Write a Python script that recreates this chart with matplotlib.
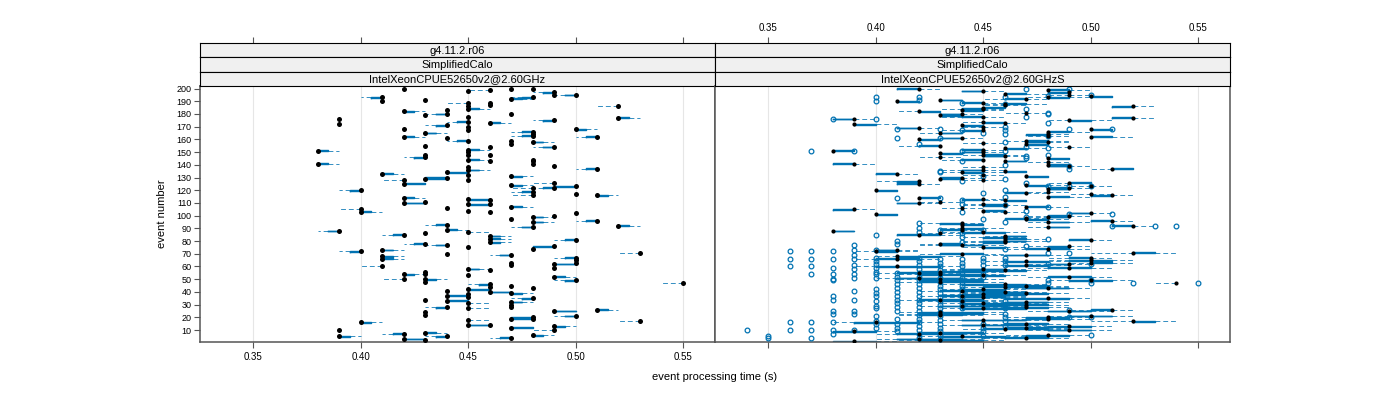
import matplotlib
matplotlib.use('Agg')

import matplotlib.pyplot as plt

plt.rcParams['font.family'] = ['Liberation Sans', 'DejaVu Sans']

BLUE = '#0072b2'

# ---- left panel: IntelXeonCPUE52650v2@2.60GHz ----
# event number, median time (1/100 s), box and whisker extent from the median (1/1000 s, signed)
left_event = [
    200, 200, 200, 199, 198, 197, 195, 195, 193, 193,
    192, 191, 190, 189, 189, 187, 186, 186, 184, 183,
    182, 180, 180, 179, 178, 177, 176, 175, 174, 173,
    172, 171, 170, 168, 168, 167, 166, 165, 164, 163,
    162, 162, 161, 159, 159, 158, 156, 155, 154, 154,
    152, 151, 150, 148, 148, 148, 146, 144, 144, 143,
    143, 141, 141, 139, 138, 137, 136, 134, 133, 132,
    131, 130, 129, 128, 128, 126, 125, 124, 123, 122,
    122, 120, 119, 117, 116, 116, 114, 113, 112, 111,
    110, 109, 109, 107, 106, 105, 104, 103, 103, 102,
    100, 99, 97, 96, 95, 93, 92, 91, 89, 88,
    87, 86, 85, 84, 82, 81, 79, 78, 77, 76,
    75, 74, 73, 72, 71, 70, 69, 68, 67, 66,
    65, 63, 63, 62, 61, 60, 59, 58, 57, 56,
    54, 54, 53, 52, 50, 50, 49, 48, 47, 46,
    45, 44, 43, 42, 41, 40, 39, 38, 37, 36,
    35, 34, 33, 32, 31, 30, 28, 28, 27, 26,
    25, 24, 22, 21, 20, 19, 19, 18, 17, 16,
    14, 14, 13, 12, 10, 10, 8, 7, 6, 5,
    5, 4, 3, 2]
left_med = [
    47, 48, 42, 46, 45, 49, 49, 50, 48, 41,
    47, 43, 41, 45, 46, 46, 45, 52, 45, 44,
    42, 47, 44, 43, 45, 52, 39, 49, 45, 46,
    39, 44, 45, 42, 50, 45, 48, 43, 48, 48,
    51, 42, 44, 47, 45, 48, 47, 43, 49, 46,
    45, 38, 45, 43, 45, 46, 43, 48, 45, 46,
    48, 38, 48, 49, 45, 51, 45, 44, 41, 45,
    47, 44, 43, 45, 42, 49, 42, 47, 50, 49,
    48, 40, 48, 50, 51, 48, 42, 45, 46, 43,
    42, 45, 46, 47, 44, 40, 45, 46, 40, 50,
    49, 48, 47, 51, 48, 44, 52, 48, 44, 39,
    45, 43, 42, 46, 46, 50, 46, 43, 44, 49,
    45, 48, 41, 40, 53, 44, 47, 41, 50, 41,
    50, 50, 47, 49, 47, 41, 49, 45, 46, 43,
    43, 42, 45, 49, 43, 42, 50, 43, 55, 46,
    47, 46, 48, 45, 44, 46, 47, 45, 44, 45,
    48, 43, 44, 47, 45, 47, 47, 44, 45, 51,
    49, 43, 43, 50, 48, 48, 47, 45, 53, 40,
    45, 46, 49, 47, 49, 39, 43, 42, 48, 44,
    39, 47, 42, 43]
left_box = [
    0, 0, 0, 0, 0, -5, 0, -5, -5, -5,
    5, 0, 0, 0, 0, 0, 0, 0, 5, 0,
    5, 0, -5, 0, 0, 5, 0, -5, -5, 5,
    0, -5, 0, 0, 5, 0, -5, 5, 0, -5,
    -5, 5, 0, 0, -5, 5, 0, 0, -5, 0,
    5, 5, 0, 0, 0, 0, -5, 0, 5, 0,
    0, 5, 0, 0, 0, -5, 5, 10, 5, 0,
    5, -10, 10, 0, 0, 0, 10, 5, -10, -5,
    0, -5, -5, 0, 5, 0, 5, 10, 0, 0,
    10, 10, 0, 5, 0, 0, 0, 0, 5, 0,
    0, 5, 0, -5, 5, -5, 5, -5, 5, -5,
    0, 0, -5, 5, 5, -5, 5, -5, -5, -10,
    0, 0, 5, -5, 0, 0, -5, 5, -5, 5,
    0, 0, 0, 10, 0, 0, 0, 5, 0, 0,
    0, 5, 0, 5, 5, 0, -5, 0, 0, -5,
    0, 0, 0, 10, 0, 10, 5, 0, 10, 0,
    -5, 0, 10, 5, 0, 0, 0, -5, 0, 5,
    10, 0, 0, -5, -10, 0, 10, 0, 0, 5,
    0, -10, 5, 10, 0, 0, 5, -5, 5, -5,
    5, -5, 10, 0]
left_whisker = [
    0, 0, 0, -10, 0, -10, 0, -10, -10, -10,
    10, 0, 0, -10, 0, 0, 0, -10, 10, 0,
    10, 0, -10, 0, 0, 10, 0, -10, -10, 10,
    0, -10, 0, 0, 10, 0, -10, 10, 0, -10,
    -10, 10, 0, 0, -10, 10, 0, 0, -10, 0,
    10, 10, 0, 0, 0, 0, -10, 0, 10, 0,
    0, 10, 0, 0, 0, -10, 10, 10, 10, 0,
    10, -10, 10, 0, -10, -10, 10, 10, -10, -10,
    -10, -10, -10, 0, 10, -10, 10, 10, 0, 0,
    10, 10, 0, 10, 0, -10, 0, 0, 10, 0,
    0, 10, 0, -10, 10, -10, 10, -10, 10, -10,
    10, 0, -10, 10, 10, -10, 10, -10, -10, -10,
    0, 0, 10, -10, -10, 0, -10, 10, -10, 10,
    0, 0, 0, 10, 0, -10, 0, 10, 0, 0,
    0, 10, 0, 10, 10, -10, -10, 0, -10, -10,
    0, 0, 0, 10, 0, 10, 10, 0, 10, 0,
    -10, 0, 10, 10, 10, 0, 0, -10, 10, 10,
    10, 0, 0, -10, -10, 0, 10, 10, -10, 10,
    0, -10, 10, 10, -10, 0, 10, -10, 10, -10,
    10, -10, 10, 0]

# ---- right panel: IntelXeonCPUE52650v2@2.60GHzS ----
# one box per event, events 200 -> 1; median in 1/100 s, quartiles and whiskers as offsets (1/100 s)
right_event = list(range(200, 0, -1))
right_med = [
    42, 48, 45, 49, 46, 49, 50, 48, 47, 43,
    41, 45, 46, 46, 52, 45, 45, 44, 42, 47,
    44, 43, 45, 52, 39, 49, 45, 46, 39, 44,
    45, 42, 50, 45, 48, 43, 48, 48, 50, 44,
    42, 47, 48, 45, 47, 43, 49, 46, 45, 38,
    45, 43, 45, 46, 43, 48, 45, 46, 48, 39,
    48, 49, 45, 51, 45, 46, 44, 41, 45, 47,
    44, 43, 45, 42, 49, 42, 47, 50, 49, 48,
    40, 48, 47, 50, 51, 48, 42, 45, 46, 43,
    42, 45, 46, 47, 44, 39, 45, 46, 50, 40,
    49, 48, 47, 47, 51, 48, 44, 44, 52, 48,
    44, 44, 38, 45, 43, 42, 46, 46, 46, 50,
    46, 46, 43, 44, 49, 45, 48, 41, 40, 52,
    44, 47, 41, 50, 41, 50, 47, 50, 49, 47,
    41, 49, 45, 46, 43, 42, 43, 45, 49, 42,
    43, 50, 43, 54, 46, 47, 46, 48, 45, 44,
    46, 47, 45, 44, 45, 48, 43, 44, 47, 45,
    47, 44, 47, 45, 51, 49, 43, 43, 43, 50,
    48, 48, 45, 52, 40, 47, 45, 49, 47, 46,
    49, 39, 43, 42, 48, 44, 47, 42, 43, 39]
right_q1 = [
    -1, 0, -1, -1, 0, 0, 0, 0, -1, 0,
    0, -1, 0, 0, -1, 0, -1, 0, 0, 0,
    -1, 0, -1, -1, -1, 0, 0, -1, 0, 0,
    0, -1, 0, -1, 0, 0, -1, 0, 0, -1,
    0, 0, -1, 0, 0, -1, 0, 0, -1, 0,
    -1, 0, 0, -1, 0, 0, -1, 0, 0, -1,
    0, -1, 0, 0, -1, 0, 0, -1, 0, 0,
    -1, 0, 0, -1, 0, -1, 0, 0, -1, 0,
    0, 0, -1, 0, -1, 0, 0, -1, 0, 0,
    -1, 0, -1, 0, 0, -1, 0, 0, -1, 0,
    -1, 0, -1, 0, -1, 0, -1, 0, -1, 0,
    0, -1, 0, -1, 0, -1, 0, -1, 0, -1,
    -1, -1, 0, -1, -1, 0, -1, -1, 0, 0,
    -1, -1, 0, -1, -1, -1, -1, 0, -1, -1,
    -1, -1, -1, -2, -1, -1, -1, -1, -1, -1,
    -1, -1, -1, 0, -2, -1, -1, -1, -1, -1,
    -1, -2, -1, -1, -1, -2, -1, -1, -1, -1,
    -2, -1, -1, -1, -1, -1, -1, -1, -1, -1,
    -1, -1, -1, 0, -1, -1, -1, -1, -1, -1,
    -1, -1, -1, -1, -1, -1, -1, -1, -1, -1]
right_q3 = [
    0, 1, 0, 0, 1, 0, 1, 1, 0, 1,
    1, 0, 1, 0, 0, 1, 0, 1, 1, 0,
    0, 1, 0, 0, 0, 1, 0, 0, 1, 1,
    0, 0, 1, 0, 1, 1, 0, 0, 1, 0,
    1, 1, 0, 0, 1, 0, 0, 1, 0, 1,
    0, 1, 1, 0, 0, 1, 0, 1, 0, 0,
    1, 0, 0, 1, 0, 1, 1, 0, 0, 1,
    0, 1, 0, 0, 1, 0, 1, 0, 0, 1,
    1, 0, 0, 0, 0, 1, 1, 0, 1, 0,
    0, 1, 0, 1, 0, 0, 1, 0, 0, 1,
    0, 1, 0, 1, 0, 1, 0, 1, 0, 1,
    1, 0, 1, 1, 0, 1, 1, 0, 1, 0,
    1, 0, 1, 1, 0, 1, 1, 0, 1, 1,
    1, 1, 2, 0, 1, 1, 1, 1, 0, 1,
    2, 1, 1, 1, 2, 1, 2, 1, 1, 2,
    2, 1, 2, 0, 1, 1, 2, 1, 1, 2,
    1, 1, 2, 2, 1, 1, 2, 1, 1, 2,
    1, 2, 1, 2, 0, 1, 2, 2, 1, 1,
    1, 1, 2, 1, 2, 1, 2, 1, 1, 2,
    1, 1, 2, 2, 1, 2, 1, 2, 2, 1]
right_lo = [
    -1, 0, -1, -1, 0, -1, 0, -1, -2, 0,
    0, -1, -1, -1, -1, 0, -2, 0, -1, -1,
    -1, 0, -2, -1, -1, -1, -1, -1, 0, 0,
    -1, -1, 0, -2, 0, -1, -1, -1, 0, -1,
    0, -1, -1, -1, 0, -2, -1, 0, -1, 0,
    -1, 0, -1, -1, -1, 0, -2, 0, -1, -1,
    0, -1, -1, -1, -2, 0, -1, -1, -1, 0,
    -1, 0, -1, -2, -1, -1, 0, -1, -1, 0,
    0, -1, -1, -1, -1, 0, 0, -1, -1, -1,
    -1, -1, -2, 0, -1, -1, 0, -1, -1, 0,
    -2, -1, -1, 0, -1, -1, -2, 0, -1, -1,
    -1, -1, 0, -2, -1, -1, -1, -2, 0, -1,
    -2, -2, -1, -2, -2, -1, -2, -1, -1, -2,
    -2, -2, -1, -2, -2, -2, -2, -1, -2, -2,
    -2, -2, -2, -3, -2, -2, -2, -2, -2, -2,
    -2, -2, -2, -1, -3, -2, -2, -2, -2, -2,
    -2, -3, -2, -2, -2, -3, -2, -2, -2, -2,
    -3, -2, -2, -2, -2, -2, -2, -2, -2, -2,
    -2, -2, -2, -2, -2, -2, -2, -2, -2, -2,
    -2, -1, -2, -2, -2, -2, -2, -2, -2, -1]
right_hi = [
    1, 2, 1, 0, 2, 1, 1, 2, 1, 1,
    1, 1, 2, 1, 1, 1, 1, 2, 1, 1,
    1, 1, 1, 1, 1, 2, 1, 1, 2, 1,
    1, 1, 1, 0, 2, 1, 1, 1, 2, 1,
    1, 2, 1, 1, 1, 0, 1, 2, 1, 1,
    1, 1, 2, 1, 1, 1, 0, 1, 1, 1,
    1, 1, 1, 1, 1, 1, 2, 1, 1, 1,
    1, 1, 1, 0, 1, 1, 2, 1, 1, 1,
    1, 1, 1, 1, 1, 2, 1, 1, 1, 1,
    1, 1, 1, 2, 1, 1, 1, 1, 1, 1,
    1, 1, 1, 2, 1, 2, 1, 1, 1, 1,
    2, 1, 1, 2, 1, 2, 1, 1, 2, 1,
    2, 1, 2, 2, 1, 2, 2, 1, 2, 2,
    2, 2, 3, 1, 2, 2, 2, 2, 1, 2,
    3, 2, 2, 2, 3, 2, 3, 2, 2, 3,
    3, 2, 3, 0, 2, 2, 3, 2, 2, 3,
    2, 2, 3, 3, 2, 2, 3, 2, 2, 3,
    2, 3, 2, 3, 1, 2, 3, 3, 2, 2,
    2, 2, 3, 2, 3, 2, 3, 2, 2, 3,
    2, 2, 3, 3, 2, 3, 2, 3, 3, 2]

# outlying runs: time (s) and the events where a run fell there
right_out_times = [0.34, 0.35, 0.36, 0.37, 0.38, 0.39, 0.40, 0.41, 0.42, 0.43,
                   0.44, 0.45, 0.46, 0.47, 0.48, 0.49, 0.50, 0.51, 0.52, 0.53,
                   0.54, 0.55]
right_out_events = [
    [10],
    [5, 4],
    [72, 66, 60, 16, 10],
    [151, 72, 66, 60, 54, 16, 10, 4],
    [176, 72, 66, 59, 54, 50, 49, 37, 34, 25, 23, 16, 10, 7],
    [151, 77, 73, 69, 66, 61, 58, 54, 51, 41, 34, 25, 23, 10],
    [193, 190, 176, 85, 73, 67, 64, 62, 59, 56, 54, 51, 42, 39, 37, 33, 29, 27,
     21, 17, 15, 12],
    [168, 161, 114, 80, 78, 55, 52, 49, 46, 43, 40, 37, 34, 31, 28, 25, 19, 15,
     12, 9],
    [193, 191, 156, 94, 90, 87, 67, 64, 61, 58, 55, 52, 49, 46, 43, 40, 37, 34,
     31, 28, 25, 22, 19, 16, 13, 10, 7, 4],
    [168, 161, 135, 134, 114, 89, 66, 63, 60, 57, 54, 51, 48, 45, 42, 39, 36, 33,
     30, 27, 24, 21, 18, 15, 12, 9, 6, 3],
    [189, 167, 151, 143, 127, 112, 109, 103, 86, 83, 79, 66, 63, 60, 57, 54, 51,
     48, 45, 42, 39, 36, 33, 30, 27],
    [165, 131, 118, 97, 89, 67, 64, 61, 57, 54, 52, 15, 12, 9, 5],
    [193, 188, 170, 167, 164, 158, 151, 140, 129, 120, 115, 108, 95, 74, 67, 64,
     61, 33, 30, 27, 23, 20, 17, 13],
    [200, 184, 178, 154, 147, 145, 126, 104, 99, 76],
    [194, 181, 180, 173, 163, 153, 148, 123, 107, 82, 71, 62, 49, 47],
    [200, 168, 139, 137, 123, 101, 71, 26, 20],
    [195, 123, 62, 49, 47, 20, 6],
    [168, 101, 92],
    [47],
    [92],
    [92],
    [47]]

strip_labels = ['g4.11.2.r06', 'SimplifiedCalo']
panel_labels = ['IntelXeonCPUE52650v2@2.60GHz', 'IntelXeonCPUE52650v2@2.60GHzS']
x_ticks = [0.35, 0.40, 0.45, 0.50, 0.55]
y_ticks = list(range(10, 201, 10))


def stats_from(med, q1, q3, lo, hi):
    return [dict(med=m, q1=a, q3=b, whislo=c, whishi=d, fliers=[])
            for m, a, b, c, d in zip(med, q1, q3, lo, hi)]


left_stats = stats_from(
    [m / 100 for m in left_med],
    [m / 100 + min(b, 0) / 1000 for m, b in zip(left_med, left_box)],
    [m / 100 + max(b, 0) / 1000 for m, b in zip(left_med, left_box)],
    [m / 100 + min(w, 0) / 1000 for m, w in zip(left_med, left_whisker)],
    [m / 100 + max(w, 0) / 1000 for m, w in zip(left_med, left_whisker)])
right_stats = stats_from(
    [m / 100 for m in right_med],
    [(m + o) / 100 for m, o in zip(right_med, right_q1)],
    [(m + o) / 100 for m, o in zip(right_med, right_q3)],
    [(m + o) / 100 for m, o in zip(right_med, right_lo)],
    [(m + o) / 100 for m, o in zip(right_med, right_hi)])

W, H = 1400.0, 400.0
fig = plt.figure(figsize=(14, 4), dpi=100)

panel_x = [200, 715]
panel_w = 515
panel_top, panel_bot = 86, 342
strip_h = (panel_top - 43) / 3.0
top_loc = 1 + (panel_top - 43) / float(panel_bot - panel_top)


def draw_boxes(ax, events, stats, dot_ms):
    kw = dict(positions=events, widths=0.6, showcaps=False, showfliers=False,
              manage_ticks=False, medianprops=dict(linestyle='none'))
    try:
        parts = ax.bxp(stats, orientation='horizontal', **kw)
    except TypeError:
        parts = ax.bxp(stats, vert=False, **kw)
    # lattice look: solid blue box, thin dashed blue whiskers
    for ln in parts['boxes']:
        ln.set_color(BLUE)
        ln.set_linewidth(1.0)
    for ln in parts['whiskers']:
        ln.set_color(BLUE)
        ln.set_alpha(0.8)
        ln.set_linewidth(0.7)
        ln.set_linestyle((0, (5, 3)))
    ax.plot([s['med'] for s in stats], events, 'o', color='black',
            ms=dot_ms, mew=0, zorder=4)


axes = []
for i, x0 in enumerate(panel_x):
    ax = fig.add_axes([x0 / W, 1 - panel_bot / H, panel_w / W,
                       (panel_bot - panel_top) / H])
    ax.set_xlim(0.3253, 0.5649)
    ax.set_ylim(0.6, 202.0)
    for t in x_ticks:
        ax.axvline(t, color='#e6e6e6', lw=0.8, zorder=0)
    for s in ax.spines.values():
        s.set_color('#555555')
        s.set_linewidth(1.1)
    ax.set_xticks(x_ticks)
    ax.set_xticklabels(['%.2f' % t for t in x_ticks])
    ax.tick_params(axis='x', direction='out', length=4, width=0.8,
                   color='#555555', labelsize=7, pad=3,
                   labelbottom=(i == 0))
    if i == 0:
        ax.set_yticks(y_ticks)
        ax.tick_params(axis='y', direction='out', length=4, width=0.8,
                       color='#555555', labelsize=6.5, pad=2)
    else:
        ax.set_yticks([])

    sec = ax.secondary_xaxis(top_loc)
    sec.set_xticks(x_ticks)
    sec.set_xticklabels(['%.2f' % t for t in x_ticks])
    sec.tick_params(direction='out', length=4, width=0.8, color='#555555',
                    labelsize=7, pad=3, labeltop=(i == 1))
    sec.spines['top'].set_visible(False)

    labels = strip_labels + [panel_labels[i]]
    for k, lab in enumerate(labels):
        y_top = 43 + k * strip_h
        sax = fig.add_axes([x0 / W, 1 - (y_top + strip_h) / H, panel_w / W,
                            strip_h / H])
        sax.set_facecolor('#f0f0f0')
        sax.set_xticks([])
        sax.set_yticks([])
        for s in sax.spines.values():
            s.set_color('black')
            s.set_linewidth(0.8)
        sax.text(0.5, 0.45, lab, ha='center', va='center', fontsize=8,
                 transform=sax.transAxes)
    axes.append(ax)

ax_l, ax_r = axes
draw_boxes(ax_l, left_event, left_stats, 3.6)
draw_boxes(ax_r, right_event, right_stats, 3.0)

out_x = []
out_y = []
for t, evs in zip(right_out_times, right_out_events):
    for e in evs:
        out_x.append(t)
        out_y.append(e)
ax_r.plot(out_x, out_y, 'o', mfc='none', mec=BLUE, ms=3.4, mew=0.9, zorder=3)

fig.text(715 / W, 1 - 377 / H, 'event processing time (s)', ha='center',
         va='center', fontsize=8)
fig.text(162 / W, 1 - 214 / H, 'event number', ha='center', va='center',
         rotation=90, fontsize=8)

fig.savefig('out.png', dpi=100)
